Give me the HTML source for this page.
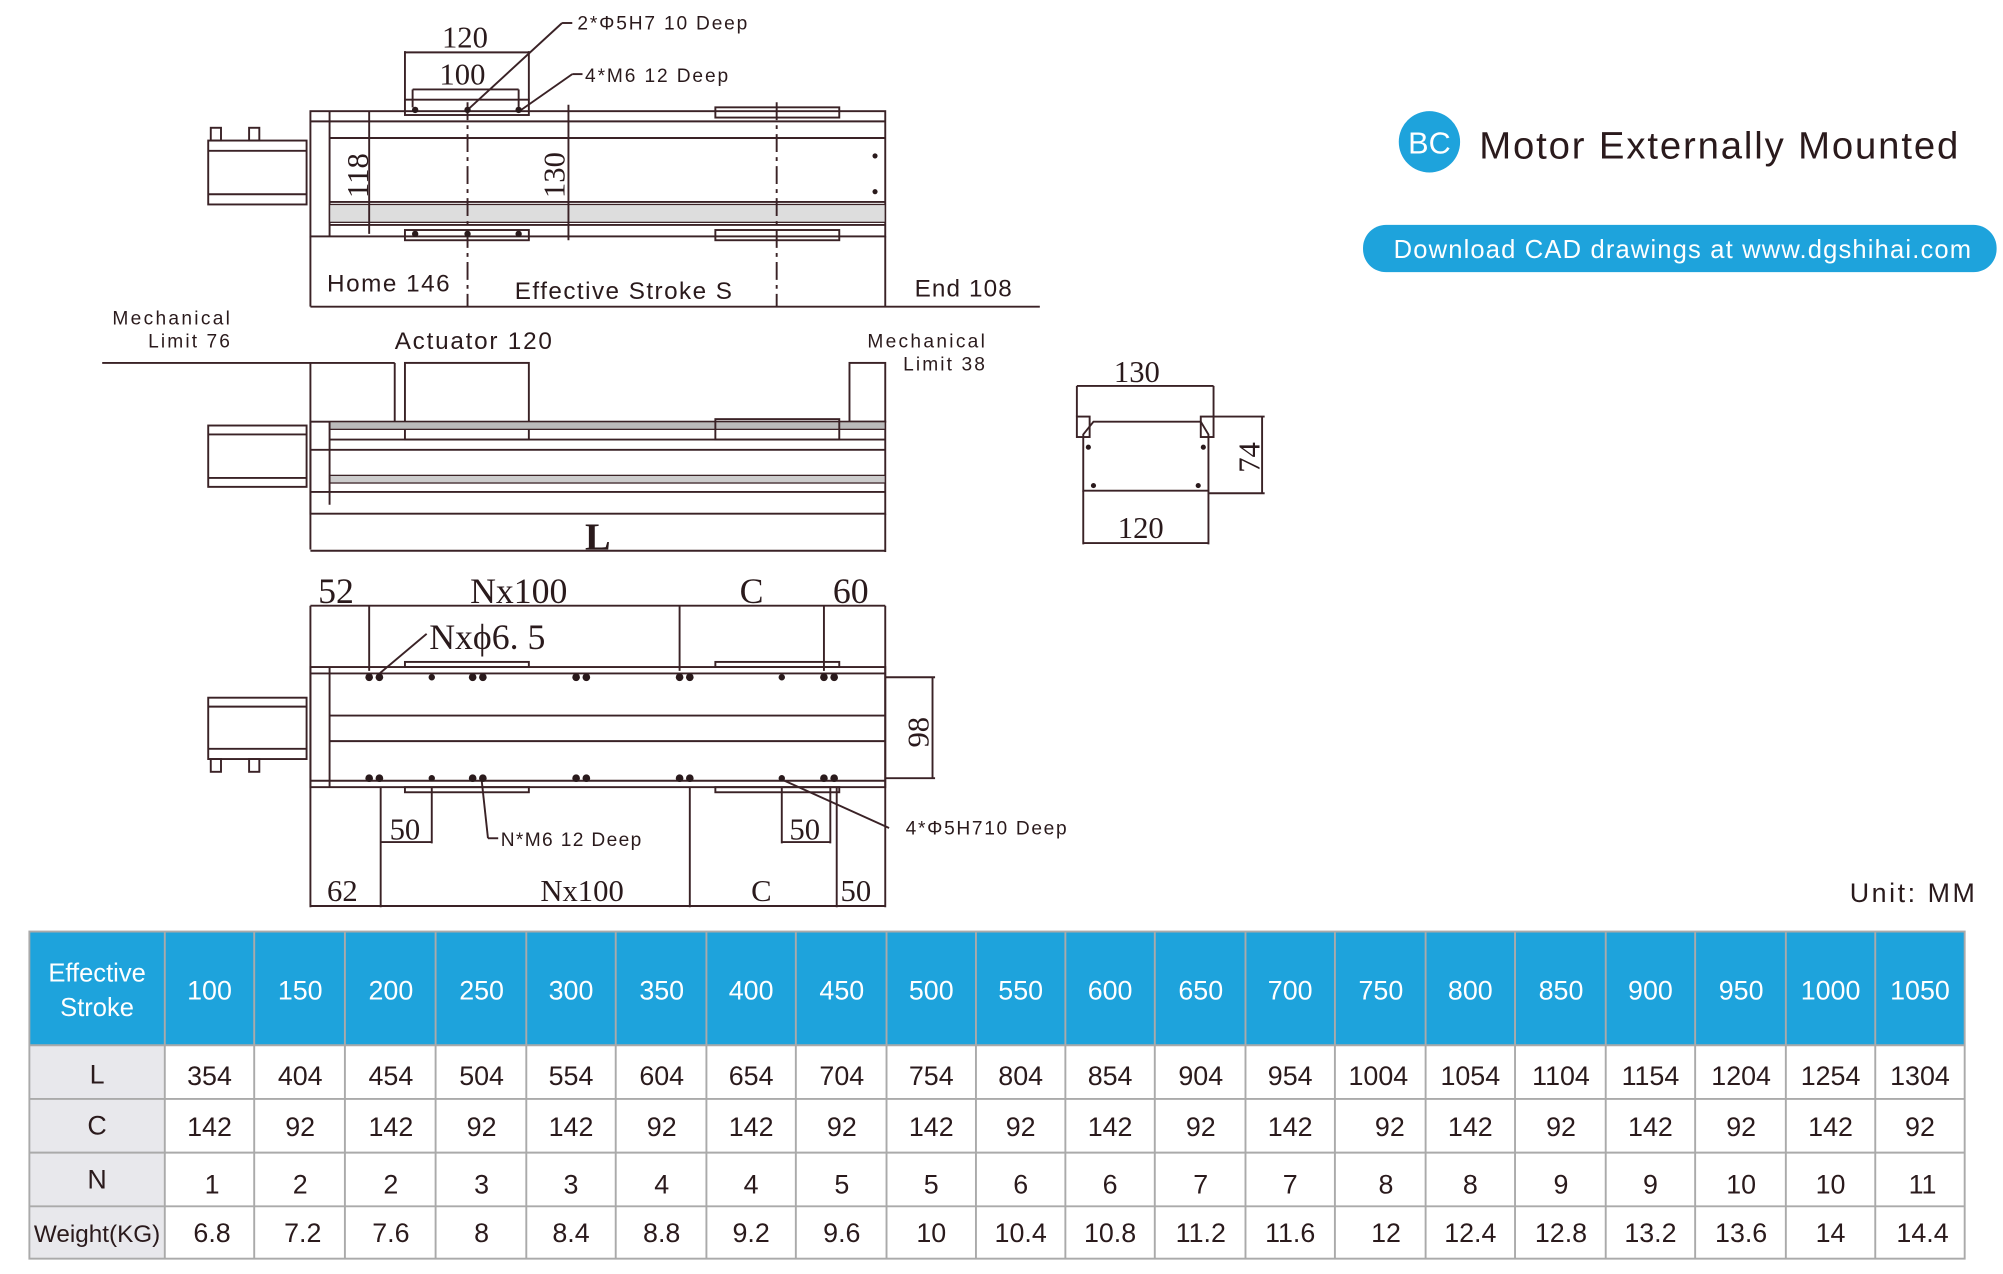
<!DOCTYPE html>
<html><head><meta charset="utf-8"><style>
html,body{margin:0;padding:0;background:#fff;width:2003px;height:1274px;overflow:hidden}
svg{display:block}
.t{font-family:"Liberation Sans",sans-serif;fill:#2a1a1c}
.s{font-family:"Liberation Serif",serif;fill:#2a1a1c}
</style></head><body>
<svg width="2003" height="1274" viewBox="0 0 1568 997" preserveAspectRatio="none" xmlns="http://www.w3.org/2000/svg">
<g stroke="#3a2226" stroke-width="1.5" fill="none">
<!-- TOP VIEW -->
<rect x="243" y="87" width="450" height="98"/>
<line x1="243" y1="95" x2="693" y2="95"/><line x1="258" y1="108" x2="693" y2="108"/>
<line x1="258" y1="158" x2="693" y2="158"/><line x1="258" y1="176" x2="693" y2="176"/>
<line x1="258" y1="87" x2="258" y2="185"/>
<rect x="258" y="160" width="435" height="14" fill="#ddd" stroke-width="1"/>
<rect x="163" y="110" width="77" height="50"/><line x1="163" y1="118" x2="240" y2="118"/><line x1="163" y1="152" x2="240" y2="152"/>
<rect x="165" y="100" width="8" height="10"/><rect x="195" y="100" width="8" height="10"/>
<rect x="317" y="78" width="97" height="12"/><rect x="560" y="84" width="97" height="8"/>
<rect x="317" y="180" width="97" height="8"/><rect x="560" y="180" width="97" height="8"/>
<line x1="289" y1="87" x2="289" y2="183"/><line x1="445" y1="82" x2="445" y2="188"/>
<line x1="366" y1="80" x2="366" y2="240" stroke-dasharray="14 4 3 4"/>
<line x1="608" y1="80" x2="608" y2="240" stroke-dasharray="14 4 3 4"/>
<line x1="317" y1="40" x2="317" y2="78"/><line x1="414" y1="40" x2="414" y2="78"/><line x1="317" y1="41" x2="414" y2="41"/>
<line x1="323" y1="70" x2="406" y2="70"/><line x1="323" y1="70" x2="323" y2="84"/><line x1="406" y1="70" x2="406" y2="84"/>
<line x1="366" y1="86" x2="440" y2="18"/><line x1="440" y1="18" x2="448" y2="18"/>
<line x1="408" y1="86" x2="448" y2="58"/><line x1="448" y1="58" x2="456" y2="58"/>
<line x1="243" y1="185" x2="243" y2="240"/><line x1="693" y1="185" x2="693" y2="240"/>
<line x1="243" y1="240" x2="814" y2="240"/>
<!-- SIDE VIEW -->
<line x1="80" y1="284" x2="309" y2="284"/><line x1="243" y1="284" x2="243" y2="430"/><line x1="309" y1="284" x2="309" y2="330"/>
<rect x="317" y="284" width="97" height="60"/><rect x="665" y="284" width="28" height="46"/>
<rect x="243" y="330" width="450" height="72"/>
<rect x="258" y="330" width="435" height="6" fill="#bbb" stroke-width="1"/>
<line x1="258" y1="344" x2="693" y2="344"/><line x1="243" y1="352" x2="693" y2="352"/>
<rect x="258" y="372" width="435" height="6" fill="#ccc" stroke-width="1"/><line x1="243" y1="385" x2="693" y2="385"/>
<line x1="258" y1="330" x2="258" y2="395"/>
<rect x="560" y="328" width="97" height="16"/>
<rect x="163" y="333" width="77" height="48"/><line x1="163" y1="340" x2="240" y2="340"/><line x1="163" y1="374" x2="240" y2="374"/>
<line x1="693" y1="402" x2="693" y2="432"/><line x1="243" y1="431" x2="693" y2="431"/>
<!-- END VIEW -->
<path d="M848 340 L856 330 L940 330 L946 340 L946 384 L848 384 Z"/>
<rect x="843" y="326" width="10" height="16"/><rect x="940" y="326" width="10" height="16"/>
<line x1="843" y1="302" x2="950" y2="302"/><line x1="843" y1="302" x2="843" y2="326"/><line x1="950" y1="302" x2="950" y2="326"/>
<line x1="950" y1="326" x2="990" y2="326"/><line x1="946" y1="386" x2="990" y2="386"/><line x1="988" y1="326" x2="988" y2="386"/>
<line x1="848" y1="384" x2="848" y2="426"/><line x1="946" y1="384" x2="946" y2="426"/><line x1="848" y1="425" x2="946" y2="425"/>
<!-- BOTTOM VIEW -->
<line x1="243" y1="474" x2="693" y2="474"/><line x1="243" y1="474" x2="243" y2="710"/><line x1="693" y1="474" x2="693" y2="710"/>
<line x1="289" y1="474" x2="289" y2="525"/><line x1="532" y1="474" x2="532" y2="525"/><line x1="645" y1="474" x2="645" y2="525"/>
<rect x="243" y="522" width="450" height="94"/>
<line x1="258" y1="522" x2="258" y2="616"/><line x1="243" y1="527" x2="693" y2="527"/><line x1="243" y1="611" x2="693" y2="611"/>
<line x1="258" y1="560" x2="693" y2="560"/><line x1="258" y1="580" x2="693" y2="580"/>
<rect x="317" y="518" width="97" height="4"/><rect x="560" y="518" width="97" height="4"/>
<rect x="317" y="616" width="97" height="4"/><rect x="560" y="616" width="97" height="4"/>
<rect x="163" y="546" width="77" height="48"/><line x1="163" y1="553" x2="240" y2="553"/><line x1="163" y1="586" x2="240" y2="586"/>
<rect x="165" y="594" width="8" height="10"/><rect x="195" y="594" width="8" height="10"/>
<line x1="693" y1="530" x2="732" y2="530"/><line x1="693" y1="609" x2="732" y2="609"/><line x1="730" y1="530" x2="730" y2="609"/>
<line x1="298" y1="616" x2="298" y2="710"/><line x1="540" y1="616" x2="540" y2="710"/><line x1="655" y1="616" x2="655" y2="710"/>
<line x1="338" y1="616" x2="338" y2="660"/><line x1="612" y1="616" x2="612" y2="660"/><line x1="650" y1="616" x2="650" y2="660"/>
<line x1="298" y1="659" x2="338" y2="659"/><line x1="612" y1="659" x2="650" y2="659"/>
<line x1="243" y1="709" x2="693" y2="709"/>
<line x1="296" y1="528" x2="334" y2="496"/>
<line x1="377" y1="610" x2="382" y2="656"/><line x1="382" y1="656" x2="390" y2="656"/>
<line x1="612" y1="610" x2="696" y2="648"/>
</g>
<g fill="#2a1a1c">
<circle cx="325" cy="86" r="2.5"/><circle cx="366" cy="86" r="2.5"/><circle cx="406" cy="86" r="2.5"/>
<circle cx="325" cy="183" r="2.5"/><circle cx="366" cy="183" r="2.5"/><circle cx="406" cy="183" r="2.5"/>
<circle cx="685" cy="122" r="2"/><circle cx="685" cy="150" r="2"/>
<circle cx="289" cy="530" r="3"/><circle cx="297" cy="530" r="3"/><circle cx="338" cy="530" r="2.5"/><circle cx="370" cy="530" r="3"/><circle cx="378" cy="530" r="3"/><circle cx="451" cy="530" r="3"/><circle cx="459" cy="530" r="3"/><circle cx="532" cy="530" r="3"/><circle cx="540" cy="530" r="3"/><circle cx="612" cy="530" r="2.5"/><circle cx="645" cy="530" r="3"/><circle cx="653" cy="530" r="3"/>
<circle cx="289" cy="609" r="3"/><circle cx="297" cy="609" r="3"/><circle cx="338" cy="609" r="2.5"/><circle cx="370" cy="609" r="3"/><circle cx="378" cy="609" r="3"/><circle cx="451" cy="609" r="3"/><circle cx="459" cy="609" r="3"/><circle cx="532" cy="609" r="3"/><circle cx="540" cy="609" r="3"/><circle cx="612" cy="609" r="2.5"/><circle cx="645" cy="609" r="3"/><circle cx="653" cy="609" r="3"/>
<circle cx="852" cy="350" r="2"/><circle cx="942" cy="350" r="2"/><circle cx="856" cy="380" r="2"/><circle cx="938" cy="380" r="2"/>
</g>
<g class="s" font-size="24">
<text x="346" y="37">120</text><text x="344" y="66">100</text>
<text x="288" y="155" transform="rotate(-90 288 155)">118</text>
<text x="442" y="155" transform="rotate(-90 442 155)">130</text>
<text x="458" y="430" font-size="30" font-weight="bold">L</text>
<text x="872" y="299">130</text><text x="875" y="421">120</text>
<text x="986" y="370" transform="rotate(-90 986 370)">74</text>
<text x="249" y="472" font-size="28">52</text><text x="368" y="472" font-size="28">Nx100</text><text x="579" y="472" font-size="28">C</text><text x="652" y="472" font-size="28">60</text>
<text x="336" y="508" font-size="28">Nxϕ6. 5</text>
<text x="727" y="585" transform="rotate(-90 727 585)">98</text>
<text x="305" y="657">50</text><text x="618" y="657">50</text>
<text x="256" y="705">62</text><text x="423" y="705">Nx100</text><text x="588" y="705">C</text><text x="658" y="705">50</text>
</g>
<g class="t" font-size="15">
<text x="452" y="23" textLength="133">2*Φ5H7  10 Deep</text><text x="458" y="64" textLength="112">4*M6  12 Deep</text>
<text x="256" y="228" font-size="19" textLength="96">Home 146</text><text x="403" y="234" font-size="19" textLength="170">Effective Stroke S</text><text x="716" y="232" font-size="19" textLength="76">End 108</text>
<text x="88" y="254" textLength="92">Mechanical</text><text x="116" y="272" textLength="64">Limit 76</text>
<text x="309" y="273" font-size="19" textLength="123">Actuator 120</text>
<text x="679" y="272" textLength="92">Mechanical</text><text x="707" y="290" textLength="64">Limit 38</text>
<text x="392" y="662" textLength="110">N*M6 12 Deep</text><text x="709" y="653" textLength="126">4*Φ5H710 Deep</text>
<text x="1448" y="706" font-size="21" textLength="98">Unit: MM</text>
</g>
<circle cx="1119" cy="111" r="24" fill="#1ea3dc"/>
<text x="1119" y="120" text-anchor="middle" font-family="Liberation Sans,sans-serif" font-size="24" fill="#fff">BC</text>
<text x="1158" y="124" font-family="Liberation Sans,sans-serif" font-size="30" fill="#2a1a1c" textLength="375">Motor Externally Mounted</text>
<rect x="1067" y="176" width="496" height="37" rx="18" fill="#1ea3dc"/>
<text x="1091" y="202" font-family="Liberation Sans,sans-serif" font-size="20" fill="#fff" textLength="452">Download CAD drawings at www.dgshihai.com</text>
<!-- TABLE -->
<rect x="23" y="729" width="1515" height="89" fill="#1ea3dc"/>
<rect x="23" y="818" width="106" height="167" fill="#e8e8ec"/>
<g stroke="#aaa" stroke-width="1.5" fill="none">
<rect x="23" y="729" width="1515" height="256"/>
<line x1="23" y1="818" x2="1538" y2="818"/><line x1="23" y1="860" x2="1538" y2="860"/><line x1="23" y1="902" x2="1538" y2="902"/><line x1="23" y1="944" x2="1538" y2="944"/>
<line x1="129" y1="729" x2="129" y2="985"/><line x1="199" y1="729" x2="199" y2="985"/><line x1="270" y1="729" x2="270" y2="985"/><line x1="341" y1="729" x2="341" y2="985"/><line x1="412" y1="729" x2="412" y2="985"/><line x1="482" y1="729" x2="482" y2="985"/><line x1="553" y1="729" x2="553" y2="985"/><line x1="623" y1="729" x2="623" y2="985"/><line x1="694" y1="729" x2="694" y2="985"/><line x1="764" y1="729" x2="764" y2="985"/><line x1="834" y1="729" x2="834" y2="985"/><line x1="904" y1="729" x2="904" y2="985"/><line x1="975" y1="729" x2="975" y2="985"/><line x1="1045" y1="729" x2="1045" y2="985"/><line x1="1116" y1="729" x2="1116" y2="985"/><line x1="1186" y1="729" x2="1186" y2="985"/><line x1="1257" y1="729" x2="1257" y2="985"/><line x1="1327" y1="729" x2="1327" y2="985"/><line x1="1398" y1="729" x2="1398" y2="985"/><line x1="1468" y1="729" x2="1468" y2="985"/>
</g>
<g font-family="Liberation Sans,sans-serif" font-size="21" text-anchor="middle">
<g fill="#fff"><text x="76" y="768" font-size="20">Effective</text><text x="76" y="795" font-size="20">Stroke</text>
<text x="164" y="782">100</text><text x="235" y="782">150</text><text x="306" y="782">200</text><text x="377" y="782">250</text><text x="447" y="782">300</text><text x="518" y="782">350</text><text x="588" y="782">400</text><text x="659" y="782">450</text><text x="729" y="782">500</text><text x="799" y="782">550</text><text x="869" y="782">600</text><text x="940" y="782">650</text><text x="1010" y="782">700</text><text x="1081" y="782">750</text><text x="1151" y="782">800</text><text x="1222" y="782">850</text><text x="1292" y="782">900</text><text x="1363" y="782">950</text><text x="1433" y="782">1000</text><text x="1503" y="782">1050</text></g>
<g fill="#2a1a1c">
<text x="76" y="848">L</text><text x="76" y="888">C</text><text x="76" y="930">N</text><text x="76" y="972" font-size="19">Weight(KG)</text>
<text x="164" y="849">354</text><text x="235" y="849">404</text><text x="306" y="849">454</text><text x="377" y="849">504</text><text x="447" y="849">554</text><text x="518" y="849">604</text><text x="588" y="849">654</text><text x="659" y="849">704</text><text x="729" y="849">754</text><text x="799" y="849">804</text><text x="869" y="849">854</text><text x="940" y="849">904</text><text x="1010" y="849">954</text><text x="1079" y="849">1004</text><text x="1151" y="849">1054</text><text x="1222" y="849">1104</text><text x="1292" y="849">1154</text><text x="1363" y="849">1204</text><text x="1433" y="849">1254</text><text x="1503" y="849">1304</text>
<text x="164" y="889">142</text><text x="235" y="889">92</text><text x="306" y="889">142</text><text x="377" y="889">92</text><text x="447" y="889">142</text><text x="518" y="889">92</text><text x="588" y="889">142</text><text x="659" y="889">92</text><text x="729" y="889">142</text><text x="799" y="889">92</text><text x="869" y="889">142</text><text x="940" y="889">92</text><text x="1010" y="889">142</text><text x="1088" y="889">92</text><text x="1151" y="889">142</text><text x="1222" y="889">92</text><text x="1292" y="889">142</text><text x="1363" y="889">92</text><text x="1433" y="889">142</text><text x="1503" y="889">92</text>
<text x="166" y="934">1</text><text x="235" y="934">2</text><text x="306" y="934">2</text><text x="377" y="934">3</text><text x="447" y="934">3</text><text x="518" y="934">4</text><text x="588" y="934">4</text><text x="659" y="934">5</text><text x="729" y="934">5</text><text x="799" y="934">6</text><text x="869" y="934">6</text><text x="940" y="934">7</text><text x="1010" y="934">7</text><text x="1085" y="934">8</text><text x="1151" y="934">8</text><text x="1222" y="934">9</text><text x="1292" y="934">9</text><text x="1363" y="934">10</text><text x="1433" y="934">10</text><text x="1505" y="934">11</text>
<text x="166" y="972">6.8</text><text x="237" y="972">7.2</text><text x="306" y="972">7.6</text><text x="377" y="972">8</text><text x="447" y="972">8.4</text><text x="518" y="972">8.8</text><text x="588" y="972">9.2</text><text x="659" y="972">9.6</text><text x="729" y="972">10</text><text x="799" y="972">10.4</text><text x="869" y="972">10.8</text><text x="940" y="972">11.2</text><text x="1010" y="972">11.6</text><text x="1085" y="972">12</text><text x="1151" y="972">12.4</text><text x="1222" y="972">12.8</text><text x="1292" y="972">13.2</text><text x="1363" y="972">13.6</text><text x="1433" y="972">14</text><text x="1505" y="972">14.4</text>
</g></g>
</svg>
</body></html>
